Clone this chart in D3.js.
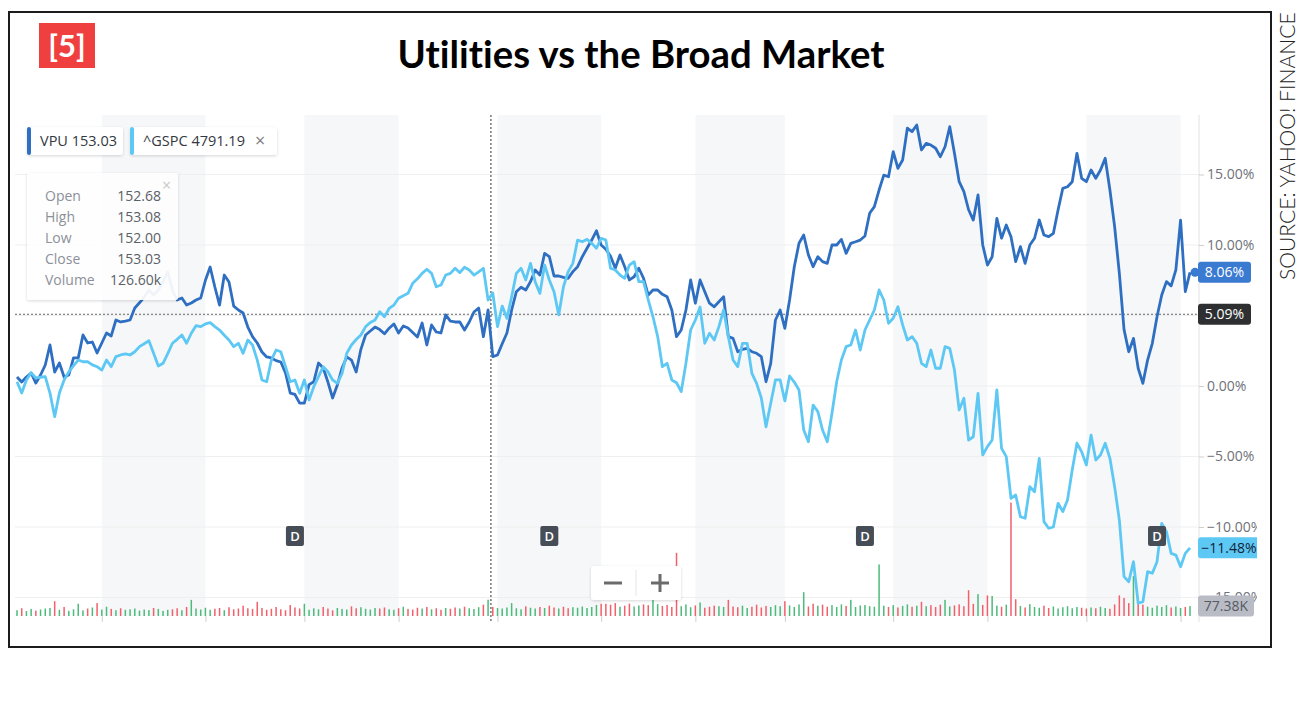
<!DOCTYPE html>
<html><head><meta charset="utf-8">
<script src="https://cdn.jsdelivr.net/npm/d3@7"></script>
<style>body{margin:0;background:#fff}svg{display:block}text{font-variant-ligatures:none;font-feature-settings:"liga" 0}</style>
</head><body>
<svg id="c" width="1316" height="710"></svg>
<script>
// ---------- DATA ----------
const vpuPct = [
0.64,0.28,0.64,0.92,0.21,0.78,1.49,2.91,0.99,1.63,
0.64,0.78,1.99,1.99,3.62,3.05,3.12,2.34,3.05,3.76,
3.55,4.68,4.54,4.6,4.68,5.53,5.9,6.31,6.81,6.45,
6.81,7.4,8.09,6.81,6.10,6.24,5.74,5.89,6.1,6.24,
7.5,8.44,7.02,5.74,7.87,7.38,5.67,5.39,5.18,4.18,
3.5,3.05,2.41,2.06,1.99,1.8,1.70,0.92,-0.5,-0.6,
-1.21,-1.21,0.1,0.3,1.63,1.28,0.28,-0.85,0.07,1.28,
2.06,1.84,0.99,2.6,3.62,3.9,4.18,4.0,3.7,4.1,
4.4,3.76,4.26,4.11,3.8,3.48,4.47,2.91,4.33,3.83,
3.76,5.04,4.6,4.54,4.54,3.97,4.54,5.25,5.53,3.50,
5.39,2.08,2.20,3.0,3.76,5.39,6.69,7.00,6.81,7.40,
8.23,7.87,9.41,9.17,7.80,7.8,7.7,7.64,8.11,8.46,
9.17,9.77,10.35,11.01,10.0,9.7,9.2,8.35,9.29,8.46,
7.52,7.75,8.35,7.64,6.45,6.81,6.81,6.5,6.33,5.39,
3.50,3.97,5.39,7.52,5.87,7.52,6.69,5.87,5.62,5.98,
6.33,3.50,3.38,2.43,2.6,2.67,2.43,2.32,2.08,0.30,
1.61,4.68,5.39,4.09,6.10,8.46,10.12,10.71,9.29,8.46,
9.17,8.82,8.70,10.0,10.0,10.40,9.41,10.12,10.23,10.35,
10.64,12.25,12.72,13.90,14.96,14.84,16.62,15.44,16.03,18.28,
18.04,18.51,16.74,17.21,17.09,16.86,16.26,16.97,18.39,16.50,
14.49,13.78,12.5,11.77,13.55,10.0,8.58,9.17,11.89,10.48,
11.42,10.59,8.82,9.88,8.70,10.0,10.48,11.77,10.71,10.59,
10.83,12.5,14.02,14.13,14.49,16.50,14.73,14.49,15.32,14.73,
15.32,16.15,13.90,11.30,8.0,4.0,2.43,3.38,1.26,0.19,
1.84,3.03,4.91,6.45,7.40,7.1,8.23,11.77,6.69,8.06
];
const gspcPct = [
0.30,-0.50,0.43,0.94,0.57,0.62,0.66,-0.50,-2.18,-0.50,
0.43,1.0,1.45,1.84,1.72,1.72,1.5,1.37,1.13,1.84,
1.37,2.08,2.2,2.27,2.20,2.43,2.79,3.0,3.21,2.32,
1.42,1.61,2.3,3.03,3.31,3.62,3.03,3.74,4.28,4.21,
4.40,4.49,4.21,3.97,3.6,3.26,2.79,3.03,2.32,3.26,
2.91,1.84,0.43,0.30,1.84,2.55,2.43,1.37,0.30,0.43,
-0.52,0.43,-0.99,-0.05,0.66,1.37,1.01,0.43,0.19,0.90,
2.32,2.91,3.3,3.62,4.21,4.5,4.68,5.27,4.91,5.5,
5.74,6.22,6.4,6.57,7.28,7.6,7.99,8.28,7.99,7.04,
7.16,7.87,7.99,8.35,8.04,8.42,8.23,7.87,8.1,8.35,
6.10,6.6,4.21,5.67,4.80,6.33,7.99,8.35,7.52,8.70,
7.40,6.57,8.58,7.52,6.69,5.04,7.04,8.11,8.70,10.35,
10.23,10.40,10.12,9.77,10.48,10.35,8.35,8.23,7.87,7.64,
8.58,8.82,7.40,7.40,6.10,4.91,3.50,1.37,1.61,0.43,
0.23,-0.40,1.61,3.97,4.68,5.6,3.03,3.74,3.26,4.21,
5.39,3.50,1.84,1.37,3.03,3.03,0.90,0.19,-0.85,-2.89,
-1.23,0.43,0.43,-1.06,0.71,0.28,-0.28,-3.12,-3.95,-1.35,
-1.82,-3.12,-3.95,-1.94,0.30,1.84,2.79,2.91,3.97,2.55,
3.97,4.68,5.39,6.81,6.10,4.45,4.80,5.62,4.33,3.26,
3.50,3.03,1.61,1.37,2.55,1.26,1.26,2.79,2.67,1.13,
-1.70,-0.87,-3.83,-3.60,-0.52,-4.89,-4.30,-3.83,-0.28,-4.42,
-5.01,-7.96,-7.73,-9.27,-9.38,-7.14,-7.50,-5.13,-9.62,-10.09,
-10.0,-8.32,-8.91,-8.09,-5.96,-4.06,-4.66,-5.60,-3.48,-5.25,
-4.89,-4.06,-5.13,-7.14,-9.50,-13.52,-13.88,-12.46,-15.41,-15.30,
-13.17,-13.28,-12.46,-9.74,-10.33,-11.87,-11.99,-12.82,-11.87,-11.48
];
const volumeK = [
45,60,38,55,42,50,58,62,115,48,70,40,52,95,44,58,66,100,50,72,55,45,60,48,52,
58,42,50,46,62,55,40,48,52,60,45,70,125,58,50,64,48,56,62,45,68,52,58,80,60,
55,110,62,48,56,70,52,45,85,66,58,95,48,60,52,70,58,44,62,55,50,75,60,68,56,
50,62,58,66,52,48,60,72,55,50,64,58,70,52,60,48,62,56,66,58,72,60,54,68,88,
126.6,70,62,58,66,100,60,52,75,64,58,70,62,80,66,58,72,60,68,64,74,62,70,86,95,
95,88,100,72,80,96,74,82,90,84,130,92,78,86,70,490,76,90,68,82,105,64,72,80,76,
70,125,74,68,80,62,72,88,66,78,70,84,76,115,82,70,90,185,74,95,80,88,72,84,70,
90,78,125,70,82,85,76,72,400,80,70,84,66,78,90,72,80,110,76,84,70,88,125,74,82,
90,76,200,94,170,86,160,155,80,72,88,880,130,78,66,92,70,64,80,62,74,58,68,76,60,
70,64,58,66,60,72,62,56,90,160,140,100,310,140,88,72,64,80,70,84,66,74,62,70,77.38
];
const monthStartDays = [18,40,61,81,102,124,144,163,186,206,227,247];
const dividendDays = [59,113,180,242];
const yTicks = [15,10,5,0,-5,-10,-15];
const legendItems = [{sym:"VPU", val:"153.03"}, {sym:"^GSPC", val:"4791.19"}];
const tooltipRows = [["Open","152.68"],["High","153.08"],["Low","152.00"],["Close","153.03"],["Volume","126.60k"]];
const crosshairDay = 100.6;
const crosshairPct = 5.09;
const lastVolumeLabel = "77.38K";
const titleText = "Utilities vs the Broad Market";
const sourceText = "SOURCE: YAHOO! FINANCE";
const badgeText = "[5]";

// ---------- STYLE ----------
const C = {vpu:"#2f6fc2", gspc:"#5ec8f4", up:"#4cbb7c", down:"#f2606b", grid:"#efefef",
           band:"#f6f7f8", axisTxt:"#6f727a", frame:"#1c1c1c", badge:"#ef3f3f"};
const FONT = "'Open Sans', 'Noto Sans', sans-serif";

const svg = d3.select("#c");
const defs = svg.append("defs");
const sh = defs.append("filter").attr("id","sh").attr("x","-20%").attr("y","-20%").attr("width","140%").attr("height","150%");
sh.append("feDropShadow").attr("dx",0).attr("dy",1).attr("stdDeviation",1.6).attr("flood-color","#000").attr("flood-opacity",0.16);
defs.append("clipPath").attr("id","axclip").append("rect").attr("x",0).attr("y",0).attr("width",1257).attr("height",710);

// scales
const N = vpuPct.length;
const x = d3.scaleLinear().domain([0, N-1]).range([17, 1190]);
const y = d3.scaleLinear().domain([-15, 15]).range([597.5, 174.5]);
const yVol = d3.scaleLinear().domain([0, 900]).range([616, 500]);
const plotL = 15, plotR = 1199, plotT = 115, plotB = 616;

// month bands
const bandPairs = d3.range(0, monthStartDays.length, 2).map(i => [monthStartDays[i], monthStartDays[i+1]]);
svg.append("g").selectAll("rect").data(bandPairs).join("rect")
  .attr("x", d => x(d[0])).attr("width", d => x(d[1]) - x(d[0]))
  .attr("y", plotT).attr("height", plotB - plotT).attr("fill", C.band);

// gridlines
svg.append("g").selectAll("line").data(yTicks).join("line")
  .attr("x1", plotL).attr("x2", plotR).attr("y1", d => y(d)).attr("y2", d => y(d))
  .attr("stroke", C.grid).attr("stroke-width", 1);

// right axis
const axG = svg.append("g").attr("clip-path","url(#axclip)");
axG.append("line").attr("x1",plotR).attr("x2",plotR).attr("y1",plotT).attr("y2",622).attr("stroke","#e2e2e2");
const yAxis = d3.axisRight(y).tickValues(yTicks).tickSize(5).tickPadding(3)
  .tickFormat(d => d3.format(".2f")(d) + "%");
const ya = axG.append("g").attr("transform", `translate(${plotR},0)`).call(yAxis);
ya.select(".domain").remove();
ya.selectAll("line").attr("stroke","#cfcfcf");
ya.selectAll("text").attr("fill", C.axisTxt).style("font-family", FONT).style("font-size","14px");

// x ticks (month starts)
const xAxis = d3.axisBottom(x).tickValues(monthStartDays).tickSize(6).tickFormat("");
const xa = svg.append("g").attr("transform", `translate(0,${plotB})`).call(xAxis);
xa.select(".domain").remove();
xa.selectAll("line").attr("stroke","#d0d0d0");

// volume bars
svg.append("g").selectAll("rect").data(volumeK).join("rect")
  .attr("x", (d,i) => x(i) - 0.75).attr("width", 1.5)
  .attr("y", d => yVol(d)).attr("height", d => yVol(0) - yVol(d))
  .attr("fill", (d,i) => (i === 0 || vpuPct[i] >= vpuPct[i-1]) ? C.up : C.down);

// crosshair
svg.append("line").attr("x1", x(crosshairDay)).attr("x2", x(crosshairDay)).attr("y1", plotT).attr("y2", 622)
  .attr("stroke","#555").attr("stroke-dasharray","2,2").attr("stroke-width",1.2);
svg.append("line").attr("x1", plotL).attr("x2", plotR).attr("y1", y(crosshairPct)).attr("y2", y(crosshairPct))
  .attr("stroke","#666").attr("stroke-dasharray","2,2").attr("stroke-width",1.2);

// lines
const line = d3.line().x((d,i) => x(i)).y(d => y(d));
svg.append("path").datum(vpuPct).attr("d", line).attr("fill","none").attr("stroke",C.vpu)
  .attr("stroke-width",2.8).attr("stroke-linejoin","round");
svg.append("path").datum(gspcPct).attr("d", line).attr("fill","none").attr("stroke",C.gspc)
  .attr("stroke-width",2.8).attr("stroke-linejoin","round");

// dividend badges
const dG = svg.append("g").selectAll("g").data(dividendDays).join("g")
  .attr("transform", d => `translate(${x(d)},536)`);
dG.append("rect").attr("x",-9).attr("y",-10).attr("width",18).attr("height",20).attr("rx",2).attr("fill","#474d56");
dG.append("text").text("D").attr("text-anchor","middle").attr("y",5).attr("fill","#fff")
  .style("font-family",FONT).style("font-size","13px").style("font-weight","600");

// zoom control
const zc = svg.append("g").attr("transform","translate(591,566)");
zc.append("rect").attr("width",90).attr("height",34).attr("rx",3).attr("fill","#fff").attr("filter","url(#sh)");
zc.append("line").attr("x1",45).attr("x2",45).attr("y1",4).attr("y2",30).attr("stroke","#e6e6e6");
zc.append("line").attr("x1",13).attr("x2",31).attr("y1",17).attr("y2",17).attr("stroke","#6b6b6b").attr("stroke-width",3);
zc.append("line").attr("x1",60).attr("x2",78).attr("y1",17).attr("y2",17).attr("stroke","#6b6b6b").attr("stroke-width",3);
zc.append("line").attr("x1",69).attr("x2",69).attr("y1",8).attr("y2",26).attr("stroke","#6b6b6b").attr("stroke-width",3);

// right-side tags
function tag(cy, w, fill, txt, txtFill, dot) {
  const g = axG.append("g").attr("transform", `translate(1198,${cy})`);
  if (dot) g.append("circle").attr("cx",-3).attr("cy",0).attr("r",4.5).attr("fill",fill);
  g.append("rect").attr("x",0).attr("y",-10.5).attr("width",w).attr("height",21).attr("rx",3).attr("fill",fill);
  g.append("text").text(txt).attr("x",w/2).attr("y",5).attr("text-anchor","middle").attr("fill",txtFill)
   .style("font-family",FONT).style("font-size","14px");
}
tag(y(vpuPct[N-1]), 53, "#3a7ad0", d3.format(".2f")(vpuPct[N-1]) + "%", "#fff", true);
tag(y(crosshairPct), 53, "#2e2f31", d3.format(".2f")(crosshairPct) + "%", "#fff", false);
tag(y(gspcPct[N-1]), 62, "#5ec8f4", d3.format(".2f")(gspcPct[N-1]) + "%", "#13233a", false);
tag(yVol(volumeK[N-1]), 56, "#b9bcc5", lastVolumeLabel, "#555a63", false);

// tooltip
const tt = svg.append("g").attr("transform","translate(27,173)");
tt.append("rect").attr("width",151).attr("height",127).attr("rx",2).attr("fill","#fff").attr("fill-opacity",0.92).attr("filter","url(#sh)");
tt.append("text").text("×").attr("x",135).attr("y",18).attr("fill","#c8c8c8").style("font-family",FONT).style("font-size","16px");
tooltipRows.forEach((r,i) => {
  tt.append("text").text(r[0]).attr("x",18).attr("y",28 + i*21).attr("fill","#8d9099")
    .style("font-family",FONT).style("font-size","14px");
  tt.append("text").text(r[1]).attr("x",134).attr("y",28 + i*21).attr("text-anchor","end").attr("fill","#5b5f66")
    .style("font-family",FONT).style("font-size","14px");
});

// legend chips
let lx = 27;
legendItems.forEach((it,i) => {
  const g = svg.append("g").attr("transform",`translate(${lx},127)`);
  const t = g.append("text").attr("x",13).attr("y",19).style("font-family",FONT).style("font-size","14.5px").attr("fill","#333840");
  t.append("tspan").text(it.sym);
  t.append("tspan").text(" " + it.val);
  let w = t.node().getComputedTextLength() + 19;
  if (i === 1) {
    g.append("text").text("×").attr("x", w + 4).attr("y",19.5).attr("fill","#7f7f7f").style("font-family",FONT).style("font-size","18px");
    w += 26;
  }
  g.insert("rect","text").attr("width",w).attr("height",28).attr("rx",3).attr("fill","#fff").attr("filter","url(#sh)");
  g.insert("rect","text").attr("width",4).attr("height",28).attr("rx",2).attr("fill", i === 0 ? C.vpu : C.gspc);
  lx += w + 7;
});

// frame
svg.append("rect").attr("x",9).attr("y",12).attr("width",1262).attr("height",635)
  .attr("fill","none").attr("stroke",C.frame).attr("stroke-width",2);

// badge
svg.append("rect").attr("x",39).attr("y",23).attr("width",56).attr("height",45).attr("fill",C.badge);
svg.append("text").text(badgeText).attr("x",67).attr("y",57).attr("text-anchor","middle").attr("fill","#fff")
  .style("font-family","Lato, sans-serif").style("font-size","31px").style("font-weight","700");

// title
const title = svg.append("text").text(titleText).attr("x",641).attr("y",68).attr("text-anchor","middle")
  .attr("fill","#000").style("font-family","Lato, sans-serif").style("font-weight","700").style("font-size","35px");
const tw = title.node().getComputedTextLength();
title.style("font-size", (35 * 487 / tw) + "px");

// source
const src = svg.append("text").text(sourceText).attr("transform","translate(1295,280) rotate(-90)")
  .attr("fill","#222").style("font-family","Lato, sans-serif").style("font-weight","300").style("font-size","24px");
const sw = src.node().getComputedTextLength();
src.style("font-size", (24 * 268 / sw) + "px");
</script>
</body></html>
